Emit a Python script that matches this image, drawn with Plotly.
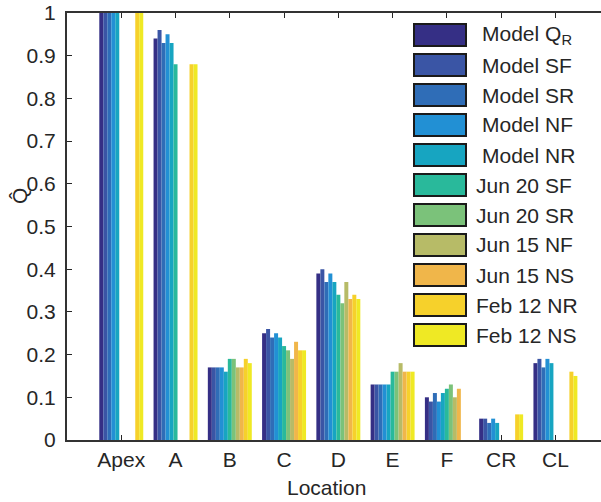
import plotly.graph_objects as go

# Locations along the channel
locations = ["Apex", "A", "B", "C", "D", "E", "F", "CR", "CL"]

# Normalised discharge per location, one list per case (None = no data)
model_qr = [1.00, 0.94, 0.17, 0.25, 0.39, 0.13, 0.10, 0.05, 0.18]
model_sf = [1.00, 0.96, 0.17, 0.26, 0.40, 0.13, 0.09, 0.05, 0.19]
model_sr = [1.00, 0.93, 0.17, 0.24, 0.37, 0.13, 0.11, 0.04, 0.17]
model_nf = [1.00, 0.95, 0.17, 0.25, 0.39, 0.13, 0.09, 0.05, 0.19]
model_nr = [1.00, 0.93, 0.16, 0.24, 0.37, 0.13, 0.11, 0.04, 0.18]
jun20_sf = [None, 0.88, 0.19, 0.22, 0.34, 0.16, 0.12, None, None]
jun20_sr = [None, None, 0.19, 0.21, 0.32, 0.16, 0.13, None, None]
jun15_nf = [None, None, 0.17, 0.19, 0.37, 0.18, 0.10, None, None]
jun15_ns = [None, None, 0.17, 0.23, 0.33, 0.16, 0.12, None, None]
feb12_nr = [1.00, 0.88, 0.19, 0.21, 0.34, 0.16, None, 0.06, 0.16]
feb12_ns = [1.00, 0.88, 0.18, 0.21, 0.33, 0.16, None, 0.06, 0.15]

series_names = ["Model Q<sub>R</sub>", "Model SF", "Model SR", "Model NF", "Model NR",
                "Jun 20 SF", "Jun 20 SR", "Jun 15 NF", "Jun 15 NS", "Feb 12 NR", "Feb 12 NS"]
series_values = [model_qr, model_sf, model_sr, model_nf, model_nr,
                 jun20_sf, jun20_sr, jun15_nf, jun15_ns, feb12_nr, feb12_ns]
series_colors = ["#352f85", "#3a55a5", "#2f6db7", "#2290d4", "#17a5c1",
                 "#29b99b", "#7bc27a", "#b7bb67", "#f0b64a", "#f6d12b", "#efe924"]

y_ticks = [0, 0.1, 0.2, 0.3, 0.4, 0.5, 0.6, 0.7, 0.8, 0.9, 1]
y_tick_text = ["0", "0.1", "0.2", "0.3", "0.4", "0.5", "0.6", "0.7", "0.8", "0.9", "1"]

W, H = 601, 502
ML, MR, MT, MB = 67, 0, 13, 62
PW, PH = W - ML - MR, H - MT - MB
FONT = "Liberation Sans, Arial, sans-serif"
FS = 21
INK = "#262626"


def px_x(px):
    return (px - ML) / PW


def px_y(py):
    return (H - MB - py) / PH


xpos = list(range(1, len(locations) + 1))

fig = go.Figure()
for name, vals, col in zip(series_names, series_values, series_colors):
    fig.add_trace(go.Bar(x=xpos, y=vals, name=name, marker_color=col,
                         marker_line_width=0, showlegend=False))

# Boxed legend swatches with labels
for i, (name, col) in enumerate(zip(series_names, series_colors)):
    top = 24 + 30 * i
    fig.add_shape(type="rect", xref="paper", yref="paper",
                  x0=px_x(414), x1=px_x(466), y0=px_y(top), y1=px_y(top + 22),
                  fillcolor=col, line=dict(color="#1a1a1a", width=2))
    tx = 480 if name.startswith("Model") else 474
    fig.add_annotation(xref="paper", yref="paper", x=px_x(tx), y=px_y(top + 11),
                       text=name, showarrow=False, xanchor="left", yanchor="middle",
                       font=dict(family=FONT, size=FS, color=INK))

# Axis titles
fig.add_annotation(xref="paper", yref="paper", x=px_x(326), y=px_y(488),
                   text="Location", showarrow=False, xanchor="center", yanchor="middle",
                   font=dict(family=FONT, size=FS, color=INK))
fig.add_annotation(xref="paper", yref="paper", x=px_x(19), y=px_y(196),
                   text="Q\u0302", showarrow=False, textangle=-90,
                   xanchor="center", yanchor="middle",
                   font=dict(family=FONT, size=FS, color=INK))

fig.update_layout(
    width=W, height=H,
    margin=dict(l=ML, r=MR, t=MT, b=MB, pad=0),
    paper_bgcolor="white", plot_bgcolor="white",
    barmode="group", bargap=0.19, bargroupgap=0,
    font=dict(family=FONT, size=FS, color=INK),
    showlegend=False,
)
fig.update_xaxes(
    range=[0, 9.84], tickmode="array", tickvals=xpos, ticktext=locations,
    ticks="inside", ticklen=5, tickcolor=INK, tickwidth=1,
    showline=True, linecolor="#333333", linewidth=2, mirror="allticks",
    showgrid=False, zeroline=False, layer="below traces",
    tickfont=dict(family=FONT, size=FS, color=INK),
)
fig.update_yaxes(
    range=[0, 1], tickmode="array", tickvals=y_ticks, ticktext=y_tick_text,
    ticks="inside", ticklen=5, tickcolor=INK, tickwidth=1,
    showline=True, linecolor="#333333", linewidth=2,
    showgrid=False, zeroline=False, ticklabelstandoff=5,
    tickfont=dict(family=FONT, size=FS, color=INK),
)

fig.write_html("out.html")
